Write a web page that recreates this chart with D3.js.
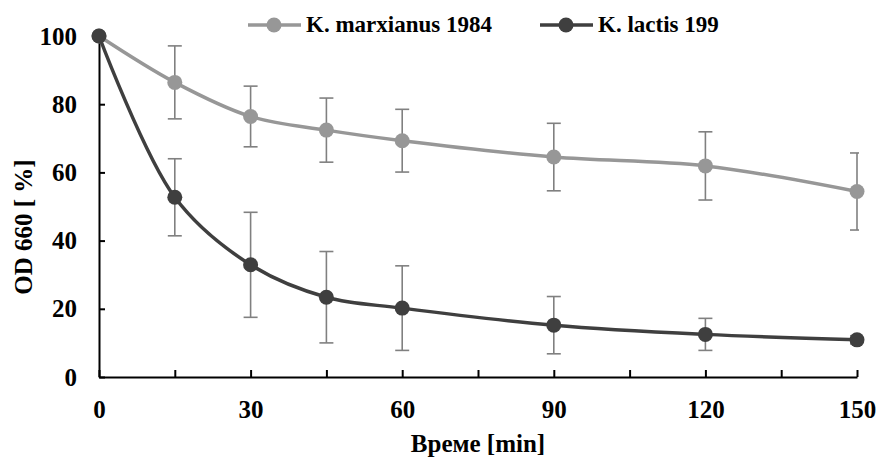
<!DOCTYPE html>
<html>
<head>
<meta charset="utf-8">
<script src="https://cdn.jsdelivr.net/npm/d3@7"></script>
<style>
  html, body { margin: 0; padding: 0; background: #fff; }
  svg { display: block; }
</style>
</head>
<body>
<svg id="chart" width="880" height="459"></svg>
<script>
// Time points (min)
const times = [0, 15, 30, 45, 60, 90, 120, 150];

// OD 660 relative to t = 0 (%), mean and standard deviation
const marxianusMean = [100, 86.4, 76.4, 72.4, 69.3, 64.5, 61.9, 54.4];
const marxianusSd   = [0, 10.7, 8.9, 9.4, 9.2, 9.9, 10.0, 11.3];
const lactisMean    = [100, 52.7, 32.9, 23.4, 20.2, 15.2, 12.5, 10.9];
const lactisSd      = [0, 11.3, 15.4, 13.4, 12.4, 8.4, 4.7, 1.2];

const seriesNames = ["K. marxianus 1984", "K. lactis 199"];
const seriesColors = ["#979797", "#3f3f3f"];

const xTicks = [0, 15, 30, 45, 60, 75, 90, 105, 120, 135, 150];
const xLabelTicks = [0, 30, 60, 90, 120, 150];
const yTicks = [0, 20, 40, 60, 80, 100];

const xTitle = "Време [min]";
const yTitle = "OD 660 [ %]";

const FONT = "'Liberation Serif', 'Times New Roman', Times, serif";

const series = [
  { name: seriesNames[0], color: seriesColors[0],
    pts: times.map((t, i) => ({ t, m: marxianusMean[i], sd: marxianusSd[i] })) },
  { name: seriesNames[1], color: seriesColors[1],
    pts: times.map((t, i) => ({ t, m: lactisMean[i], sd: lactisSd[i] })) }
];

const svg = d3.select("#chart");
const x = d3.scaleLinear().domain([0, 150]).range([99, 857]);
const y = d3.scaleLinear().domain([0, 100]).range([377, 36]);

svg.append("defs").append("clipPath").attr("id", "plotClip")
  .append("rect").attr("x", 90).attr("y", 0).attr("width", 769).attr("height", 459);

function styleText(sel, size) {
  sel.style("font-family", FONT).style("font-weight", "bold")
     .style("font-size", size + "px").attr("fill", "#000");
}

// Axes
const yAxis = d3.axisLeft(y).tickValues(yTicks).tickSizeInner(-6).tickSizeOuter(0).tickPadding(22);
const gy = svg.append("g").attr("transform", `translate(${x(0)},0)`).call(yAxis);
gy.select(".domain").attr("stroke", "#000").attr("stroke-width", 2);
gy.selectAll(".tick line").attr("stroke", "#000").attr("stroke-width", 2);
styleText(gy.selectAll(".tick text"), 25);

const xAxis = d3.axisBottom(x).tickValues(xTicks).tickSizeInner(-7).tickSizeOuter(0).tickPadding(23)
  .tickFormat(d => xLabelTicks.includes(d) ? d : "");
const gx = svg.append("g").attr("transform", `translate(0,${y(0)})`).call(xAxis);
gx.select(".domain").attr("stroke", "#000").attr("stroke-width", 2);
gx.selectAll(".tick line").attr("stroke", "#000").attr("stroke-width", 2);
styleText(gx.selectAll(".tick text"), 25);

// Axis titles
styleText(svg.append("text").attr("x", 478).attr("y", 452).attr("text-anchor", "middle").text(xTitle), 25);
styleText(svg.append("text").attr("transform", "translate(32,227) rotate(-90)")
  .attr("text-anchor", "middle").text(yTitle), 25);

// Error bars
const plot = svg.append("g").attr("clip-path", "url(#plotClip)");
series.forEach(s => {
  const eb = plot.append("g").attr("stroke", "#808080").attr("stroke-width", 1.6).attr("fill", "none");
  s.pts.filter(p => p.sd > 0).forEach(p => {
    const cx = x(p.t), y1 = y(p.m + p.sd), y2 = y(p.m - p.sd);
    eb.append("line").attr("x1", cx).attr("x2", cx).attr("y1", y1).attr("y2", y2);
    eb.append("line").attr("x1", cx - 7).attr("x2", cx + 7).attr("y1", y1).attr("y2", y1);
    eb.append("line").attr("x1", cx - 7).attr("x2", cx + 7).attr("y1", y2).attr("y2", y2);
  });
});

// Smoothed lines and markers
const line = d3.line().x(d => x(d.t)).y(d => y(d.m)).curve(d3.curveCatmullRom.alpha(0.5));
series.forEach(s => {
  svg.append("path").datum(s.pts).attr("d", line)
    .attr("fill", "none").attr("stroke", s.color).attr("stroke-width", 3.5);
  svg.append("g").selectAll("circle").data(s.pts).join("circle")
    .attr("cx", d => x(d.t)).attr("cy", d => y(d.m)).attr("r", 7.5).attr("fill", s.color);
});

// Legend
const legendItems = [
  { x0: 248, color: seriesColors[0], label: seriesNames[0] },
  { x0: 540, color: seriesColors[1], label: seriesNames[1] }
];
legendItems.forEach(it => {
  const g = svg.append("g");
  g.append("line").attr("x1", it.x0).attr("x2", it.x0 + 53).attr("y1", 25).attr("y2", 25)
    .attr("stroke", it.color).attr("stroke-width", 3.5);
  g.append("circle").attr("cx", it.x0 + 26).attr("cy", 25).attr("r", 7.5).attr("fill", it.color);
  styleText(g.append("text").attr("x", it.x0 + 58).attr("y", 32).text(it.label), 23);
});
</script>
</body>
</html>
